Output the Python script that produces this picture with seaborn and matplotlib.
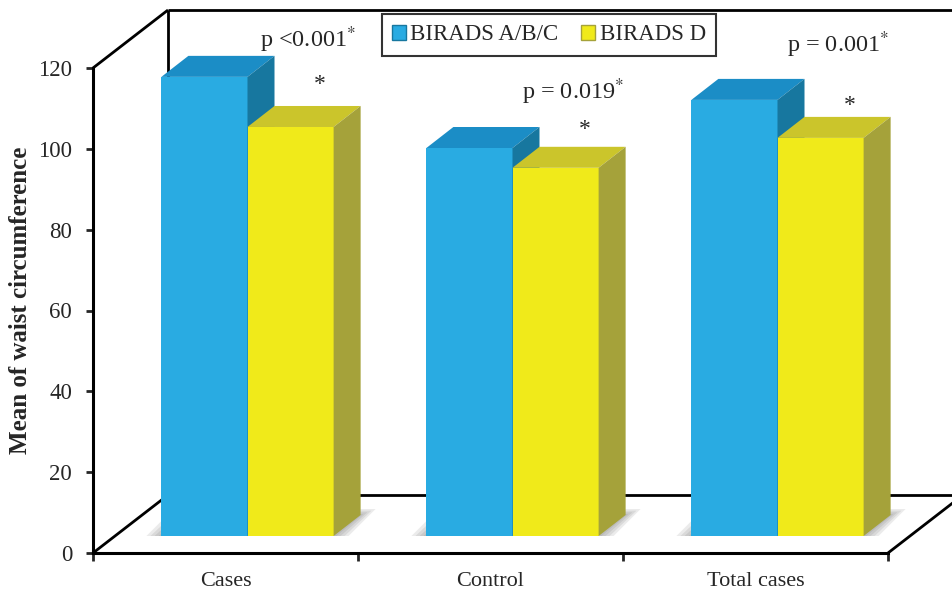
import numpy as np
import pandas as pd
import seaborn as sns
import matplotlib.pyplot as plt
from matplotlib.patches import Polygon, Patch
from matplotlib.transforms import ScaledTranslation

# data
groups = ["Cases", "Control", "Total cases"]
series = ["BIRADS A/B/C", "BIRADS D"]
birads_abc = [113.6, 96.0, 107.9]
birads_d = [101.2, 91.1, 98.5]
p_labels = ["p <0.001$^{*}$", "p = 0.019$^{*}$", "p = 0.001$^{*}$"]
p_pos_y = [126.9, 114.1, 125.7]
star_pos_y = [115.8, 104.7, 110.8]

front_cols = ["#29abe2", "#f0ea1a"]
top_cols = ["#1b8dc6", "#cbc52b"]
side_cols = ["#17779f", "#a5a23a"]

df = pd.DataFrame({
    "group": groups * 2,
    "series": [series[0]] * 3 + [series[1]] * 3,
    "value": birads_abc + birads_d,
})

sns.set_style("white")
plt.rcParams["font.family"] = ["Liberation Serif", "DejaVu Serif"]
plt.rcParams["mathtext.fontset"] = "stix"

fig = plt.figure(figsize=(9.52, 5.92), dpi=100)
ax = fig.add_axes([93 / 952, 39 / 592, 795 / 952, 485 / 592])
sns.barplot(data=df, x="group", y="value", hue="series", palette=front_cols,
            width=0.65, saturation=1, linewidth=0, errorbar=None,
            legend=False, ax=ax)
ax.set_xlim(-0.5, 2.5)
ax.set_ylim(0, 120)

# pixel -> data scale
p0, p1 = ax.transData.transform([(0, 0), (1, 1)])
sx, sy = p1 - p0

# 3D look: bars sit a bit back on the floor, with top and side faces
shift = ScaledTranslation(0.22, 0.17, fig.dpi_scale_trans)
ddx, ddy = 27 / sx, 21 / sy
for i, cont in enumerate(ax.containers):
    for bar in cont:
        x0, w, h = bar.get_x(), bar.get_width(), bar.get_height()
        bar.set_transform(ax.transData + shift)
        bar.set_clip_on(False)
        bar.set_zorder(2 + i)
        topf = Polygon([(x0, h), (x0 + w, h), (x0 + w + ddx, h + ddy), (x0 + ddx, h + ddy)],
                       closed=True, facecolor=top_cols[i], edgecolor="none",
                       transform=ax.transData + shift, clip_on=False, zorder=2 + i)
        sidef = Polygon([(x0 + w, 0), (x0 + w, h), (x0 + w + ddx, h + ddy), (x0 + w + ddx, ddy)],
                        closed=True, facecolor=side_cols[i], edgecolor="none",
                        transform=ax.transData + shift, clip_on=False, zorder=2 + i)
        ax.add_patch(topf)
        ax.add_patch(sidef)

# soft shadow on the floor around each pair of bars
for b_blue, b_yel in zip(ax.containers[0], ax.containers[1]):
    xl = b_blue.get_x()
    xr = b_yel.get_x() + b_yel.get_width()
    for e in [3, 7, 11, 15]:
        ex, ey = e / sx, e * 0.4 / sy
        sh = Polygon([(xl - ex, 0), (xr + ex, 0), (xr + ddx + ex, ddy + ey), (xl + ddx - ex, ddy + ey)],
                     closed=True, facecolor="#444444", edgecolor="none", alpha=0.1,
                     transform=ax.transData + shift, clip_on=False, zorder=1.5)
        ax.add_patch(sh)

# wall and floor outline
Dx, Dy = 75 / sx, 58 / sy
lk = dict(color="black", lw=2, clip_on=False, zorder=1, solid_capstyle="butt")
ax.plot([-0.5, -0.5 + Dx], [0, Dy], **lk)
ax.plot([-0.5 + Dx, 3.0 + Dx], [Dy, Dy], **lk)
ax.plot([2.5, 2.5 + Dx], [0, Dy], **lk)
ax.plot([-0.5, -0.5 + Dx], [120, 120 + Dy], **lk)
ax.plot([-0.5 + Dx, -0.5 + Dx], [Dy, 120 + Dy], **lk)
ax.plot([-0.5 + Dx, 3.0 + Dx], [120 + Dy, 120 + Dy], **lk)

# axes styling
sns.despine(ax=ax)
for s in ["left", "bottom"]:
    ax.spines[s].set_linewidth(2.2)
    ax.spines[s].set_color("black")
ax.set_yticks(range(0, 121, 20))
ax.tick_params(axis="y", direction="out", length=5, width=2, labelsize=16.5, pad=10, left=True)
ax.set_xticks([0, 1, 2])
ax.set_xticklabels(groups)
ax.set_xticks([-0.5, 0.5, 1.5, 2.5], minor=True)
ax.tick_params(axis="x", which="major", length=0, labelsize=16, pad=14)
ax.tick_params(axis="x", which="minor", direction="out", length=6, width=2, bottom=True)
ax.set_xlabel("")
ax.set_ylabel("Mean of waist circumference", fontsize=18, fontweight="bold")
ax.yaxis.set_label_coords(-0.077, 0.52)

# p values and stars
for i in range(3):
    ax.text(i + 0.31, p_pos_y[i], p_labels[i], ha="center", va="center", fontsize=17.5, clip_on=False)
    ax.text(i + 0.357, star_pos_y[i], "*", ha="center", va="center", fontsize=17, clip_on=False)

handles = [Patch(facecolor=front_cols[k], edgecolor=side_cols[k], lw=1) for k in range(2)]
leg = fig.legend(handles, series, loc="center", bbox_to_anchor=(549 / 952, 1 - 35 / 592),
                 ncol=2, fontsize=16.5, frameon=True, fancybox=False, edgecolor="black",
                 handlelength=0.6, handleheight=0.6, handletextpad=0.2,
                 columnspacing=1.0, borderpad=0.45)
leg.get_frame().set_linewidth(1.5)

fig.savefig("out.png", dpi=100)
